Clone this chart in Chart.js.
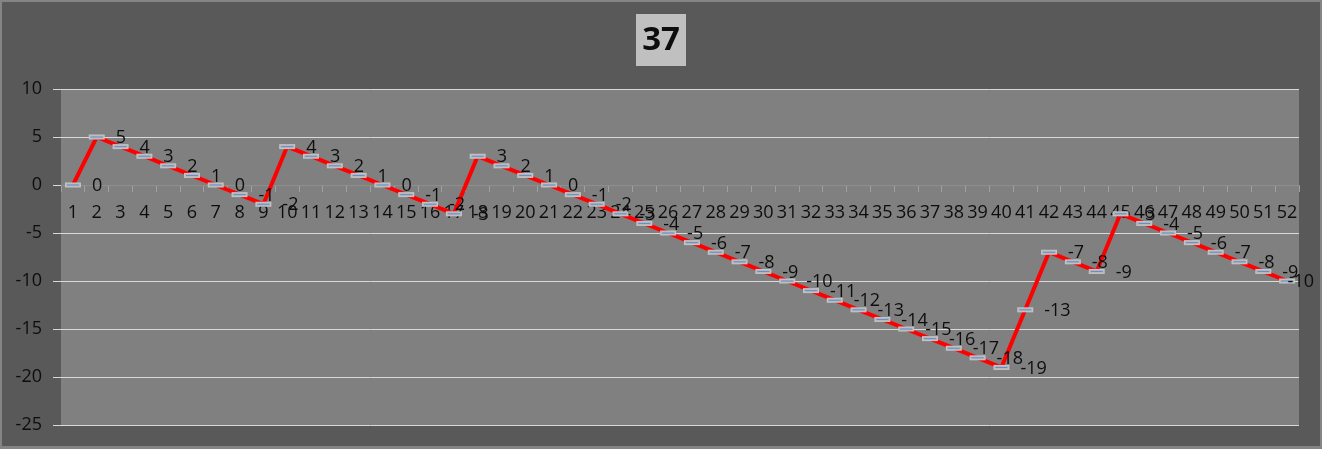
<!DOCTYPE html>
<html>
<head>
<meta charset="utf-8">
<script src="https://cdn.jsdelivr.net/npm/chart.js@4.4.1/dist/chart.umd.min.js"></script>
<style>
  html, body { margin: 0; padding: 0; background: #595959; }
  #c { display: block; }
</style>
</head>
<body>
<canvas id="c" width="1322" height="449"></canvas>
<script>
// ---- data ----
const titleText = '37';
const categories = ['1','2','3','4','5','6','7','8','9','10','11','12','13','14','15','16','17','18','19','20',
  '21','22','23','24','25','26','27','28','29','30','31','32','33','34','35','36','37','38','39','40',
  '41','42','43','44','45','46','47','48','49','50','51','52'];
const values = [0, 5, 4, 3, 2, 1, 0, -1, -2, 4, 3, 2, 1, 0, -1, -2, -3, 3, 2, 1,
  0, -1, -2, -3, -4, -5, -6, -7, -8, -9, -10, -11, -12, -13, -14, -15, -16, -17, -18, -19,
  -13, -7, -8, -9, -3, -4, -5, -6, -7, -8, -9, -10];
const yMin = -25;
const yMax = 10;
const yStep = 5;

// ---- styles ----
const FONT = '"Open Sans", "Liberation Sans", sans-serif';

// dash-style marker image
const marker = document.createElement('canvas');
marker.width = 18; marker.height = 7;
(function () {
  const c = marker.getContext('2d');
  c.fillStyle = '#c4c4c4';
  c.fillRect(1, 1, 16, 5);
  c.fillStyle = '#b4b8bd';
  c.fillRect(2, 2, 14, 3);
  c.fillStyle = '#5b8fd0';
  c.fillRect(3, 3, 12, 1);
})();

const bgPlugin = {
  id: 'bgPlugin',
  beforeDraw(chart) {
    const ctx = chart.ctx;
    const a = chart.chartArea;
    ctx.save();
    ctx.fillStyle = '#858585';
    ctx.fillRect(0, 0, chart.width, chart.height);
    ctx.fillStyle = '#595959';
    ctx.fillRect(2, 2, chart.width - 4, chart.height - 5);
    ctx.fillStyle = '#808080';
    ctx.fillRect(a.left, a.top, a.right - a.left, a.bottom - a.top);
    // title box + title text
    ctx.fillStyle = '#c0c0c0';
    ctx.fillRect(636, 14, 50, 52);
    ctx.fillStyle = '#0d0d0d';
    ctx.font = 'bold 33px ' + FONT;
    ctx.textAlign = 'center';
    ctx.textBaseline = 'middle';
    ctx.fillText(titleText, chart.width / 2, 41);
    ctx.restore();
  }
};

const labelPlugin = {
  id: 'labelPlugin',
  afterDatasetsDraw(chart) {
    const ctx = chart.ctx;
    const meta = chart.getDatasetMeta(0);
    const data = chart.data.datasets[0].data;
    ctx.save();
    ctx.font = '18px ' + FONT;
    ctx.fillStyle = '#0d0d0d';
    ctx.textAlign = 'left';
    ctx.textBaseline = 'middle';
    meta.data.forEach((pt, i) => {
      const txt = String(data[i]);
      const w = ctx.measureText(txt).width;
      const x = Math.min(pt.x + 19, chart.width - 8 - w);
      ctx.fillText(txt, x, pt.y + 1);
    });
    ctx.restore();
  }
};

new Chart(document.getElementById('c'), {
  type: 'line',
  data: {
    labels: categories,
    datasets: [{
      data: values,
      borderColor: '#ff0000',
      borderWidth: 4,
      tension: 0,
      pointStyle: marker,
      pointRadius: 8,
      pointHoverRadius: 8,
      fill: false
    }]
  },
  options: {
    responsive: false,
    animation: false,
    devicePixelRatio: 1,
    events: [],
    layout: { padding: { left: 0, right: 23, top: 89, bottom: 24 } },
    plugins: {
      legend: { display: false },
      tooltip: { enabled: false },
      title: { display: false }
    },
    scales: {
      x: {
        type: 'category',
        position: { y: 0 },
        offset: true,
        grid: {
          display: true,
          drawOnChartArea: false,
          drawTicks: true,
          tickLength: 6,
          offset: true,
          color: '#a0a0a0'
        },
        border: { display: true, color: '#8e8e8e', width: 1 },
        ticks: {
          autoSkip: false,
          maxRotation: 0,
          minRotation: 0,
          padding: 11,
          color: '#0d0d0d',
          font: { family: FONT, size: 18 }
        }
      },
      y: {
        min: yMin,
        max: yMax,
        afterFit(scale) { scale.width = 61; },
        ticks: {
          stepSize: yStep,
          padding: 11,
          color: '#0d0d0d',
          font: { family: FONT, size: 18 }
        },
        grid: {
          color: (ctx) => (ctx.tick && ctx.tick.value === 0) ? '#8e8e8e' : '#d9d9d9',
          tickColor: '#d9d9d9',
          tickLength: 8,
          lineWidth: 1
        },
        border: { display: false }
      }
    }
  },
  plugins: [bgPlugin, labelPlugin]
});
</script>
</body>
</html>
